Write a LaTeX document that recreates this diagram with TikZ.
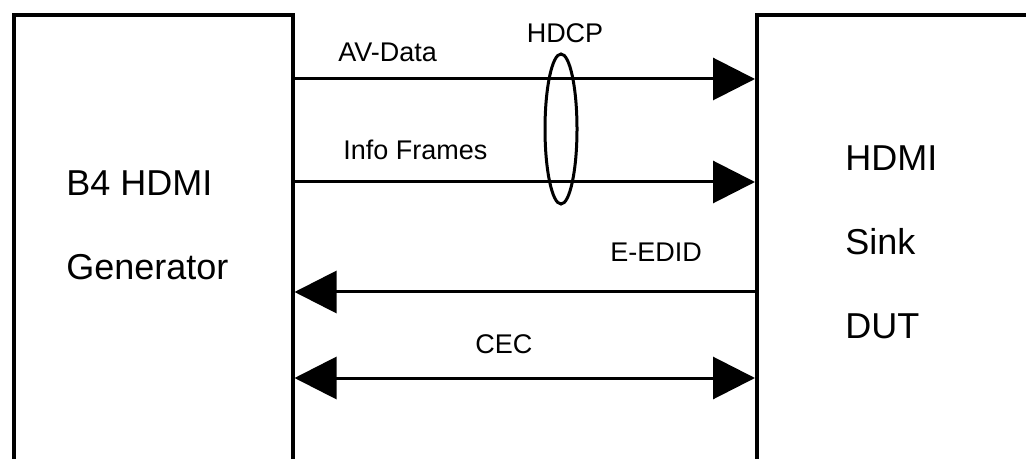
\documentclass[tikz,border=0pt]{standalone}
\usepackage{fontspec}
\setmainfont{Liberation Sans}
\usetikzlibrary{arrows.meta, shapes.geometric}

\begin{document}
\begin{tikzpicture}[x=0.5pt, y=-0.5pt, >={Triangle[length=21pt, width=21pt]},
    blk/.style={draw, line width=2pt, anchor=north west, minimum height=224pt, inner sep=0pt},
    sig/.style={line width=1.5pt},
    lbl/.style={anchor=base west, inner sep=0pt, font=\fontsize{13.5pt}{16pt}\selectfont},
    big/.style={anchor=base west, inner sep=0pt, font=\fontsize{18pt}{21pt}\selectfont}]
  \useasboundingbox (0,0) rectangle (1026,459);
  \clip (0,0) rectangle (1026,459);
  % the two devices (cut off at the page edge)
  \node[blk, minimum width=139.25pt] (gen) at (12,13) {};
  \node[blk, minimum width=150pt] (sink) at (755,13) {};
  \node[big] (genA) at (66,196) {B4 HDMI};
  \node[big] (genB) at (66,279) {Generator};
  \node[big] (sinkA) at (845,171) {HDMI};
  \node[big] (sinkB) at (845,255) {Sink};
  \node[big] (sinkC) at (845,338) {DUT};
  % rows of the links
  \coordinate (avrow) at (0,79);
  \coordinate (inforow) at (0,182);
  \coordinate (edidrow) at (0,292);
  \coordinate (cecrow) at (0,378);
  \draw[sig, ->] (gen.east |- avrow) -- (sink.west |- avrow);
  \draw[sig, ->] (gen.east |- inforow) -- (sink.west |- inforow);
  \draw[sig, ->] (sink.west |- edidrow) -- (gen.east |- edidrow);
  \draw[sig, <->] (gen.east |- cecrow) -- (sink.west |- cecrow);
  \node[lbl] (avlbl) at (338,62) {AV-Data};
  \node[lbl] (infolbl) at (343,160) {Info Frames};
  \node[lbl] (edidlbl) at (610,262) {E-EDID};
  \node[lbl] (ceclbl) at (475,353) {CEC};
  % HDCP ring round both forward links
  \node[ellipse, draw, line width=1.5pt, inner sep=0pt, minimum width=16pt,
        minimum height=75pt] (hdcp) at (561,129) {};
  \node[lbl, anchor=base] (hdcplbl) at (565,43) {HDCP};
\end{tikzpicture}
\end{document}
